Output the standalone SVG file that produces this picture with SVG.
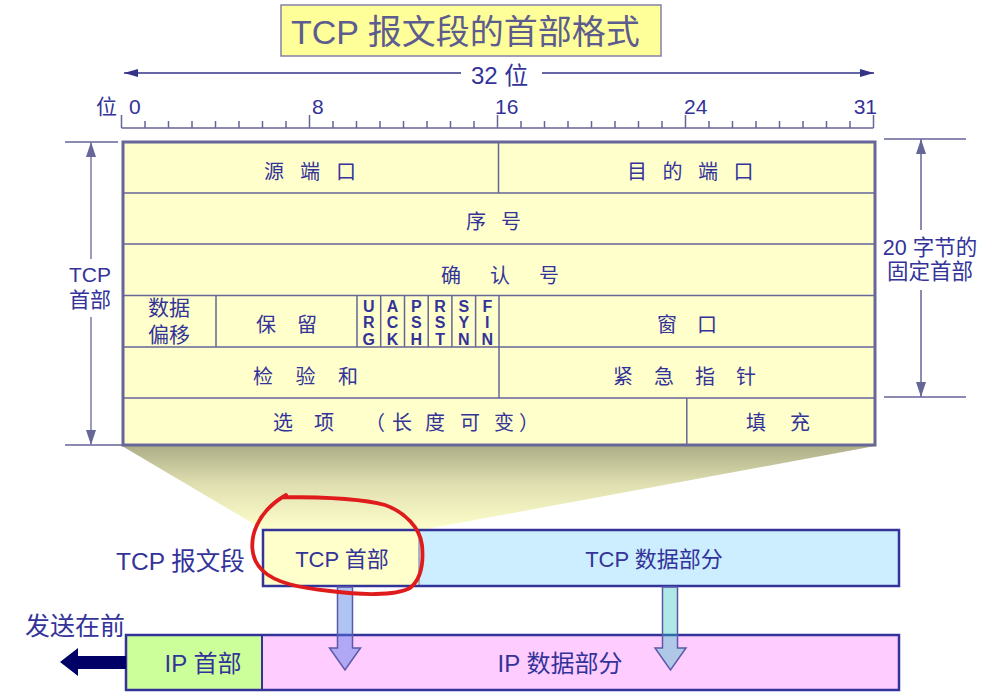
<svg xmlns="http://www.w3.org/2000/svg" width="999" height="698" viewBox="0 0 999 698">
<defs>
<style>
.t{font-family:"Liberation Sans","Noto Sans CJK SC",sans-serif;fill:#333399}
.cell{font-size:20px}
.flag{font-size:16px;font-weight:bold;text-anchor:middle}
.ln{stroke:#666699;stroke-width:1.5;fill:none}
.dim{stroke:#7a7aa8;stroke-width:1.5;fill:none}
.box{stroke:#333399;stroke-width:2.5}
</style>
<linearGradient id="shade" x1="0" y1="0" x2="0" y2="1">
<stop offset="0" stop-color="#aeae88"/>
<stop offset="0.45" stop-color="#dedeb0"/>
<stop offset="1" stop-color="#ffffcc"/>
</linearGradient>
<marker id="ah" viewBox="0 0 14 8" refX="14" refY="4" markerWidth="14" markerHeight="8" markerUnits="userSpaceOnUse" orient="auto">
<path d="M0,0 L14,4 L0,8 Z" fill="#333388"/>
</marker>
<marker id="ahd" viewBox="0 0 15 10" refX="15" refY="5" markerWidth="15" markerHeight="10" markerUnits="userSpaceOnUse" orient="auto">
<path d="M0,0 L15,5 L0,10 Z" fill="#666699"/>
</marker>
</defs>
<rect width="999" height="698" fill="#ffffff"/>

<g id="title">
<rect x="281" y="5" width="380" height="51" fill="#ffff99" stroke="#8282a8" stroke-width="1.5"/>
<text x="291" y="44" class="t" style="font-size:34px;fill:#5c5c8e">TCP 报文段的首部格式</text>
</g>

<g id="ruler">
<line x1="461" y1="73" x2="124" y2="73" stroke="#333388" stroke-width="1.5" marker-end="url(#ah)"/>
<line x1="542" y1="73" x2="874" y2="73" stroke="#333388" stroke-width="1.5" marker-end="url(#ah)"/>
<text x="471" y="84" class="t" style="font-size:24px">32 位</text>
<text x="96" y="114" class="t" style="font-size:21px">位</text>
<text x="129" y="114" class="t" style="font-size:21px">0</text>
<text x="312" y="114" class="t" style="font-size:21px">8</text>
<text x="495" y="114" class="t" style="font-size:21px">16</text>
<text x="684" y="114" class="t" style="font-size:21px">24</text>
<text x="877" y="114" class="t" style="font-size:21px;text-anchor:end">31</text>
<path class="ln" d="M121.5,128 H873.5 M121.5,115 V128 M309.5,115 V128 M497.5,115 V128 M685.5,115 V128 M873.5,115 V128
M145,121 V128 M168.5,121 V128 M192,121 V128 M215.5,121 V128 M239,121 V128 M262.5,121 V128 M286,121 V128
M333,121 V128 M356.5,121 V128 M380,121 V128 M403.5,121 V128 M427,121 V128 M450.5,121 V128 M474,121 V128
M521,121 V128 M544.5,121 V128 M568,121 V128 M591.5,121 V128 M615,121 V128 M638.5,121 V128 M662,121 V128
M709,121 V128 M732.5,121 V128 M756,121 V128 M779.5,121 V128 M803,121 V128 M826.5,121 V128 M850,121 V128"/>
</g>

<polygon id="zoom-shade" points="122,446 875,446 421,530 264,530" fill="url(#shade)"/>

<g id="header-table">
<rect x="123" y="142" width="752" height="303" fill="#ffffcc"/>
<path class="ln" d="M123,193 H875 M123,244 H875 M123,295.5 H875 M123,347 H875 M123,398 H875
M498.5,142 V193 M216,295.5 V347 M357,295.5 V347 M380.7,295.5 V347 M404.5,295.5 V347 M428.2,295.5 V347 M451.9,295.5 V347 M475.6,295.5 V347 M499,295.5 V347
M499,347 V398 M686.8,398 V445"/>
<rect x="123" y="142" width="752" height="303" fill="none" stroke="#666699" stroke-width="3"/>
<text class="t cell" x="264 300 336" y="178.5">源端口</text>
<text class="t cell" x="627 662.5 698 733.5" y="178.5">目的端口</text>
<text class="t cell" x="466 501" y="229">序号</text>
<text class="t cell" x="441 490 539" y="282.5">确认号</text>
<text class="t" style="font-size:21px;text-anchor:middle" x="169" y="315">数据</text>
<text class="t" style="font-size:21px;text-anchor:middle" x="169" y="341.5">偏移</text>
<text class="t cell" x="256 297" y="332">保留</text>
<text class="t flag" x="368.8" y="311.5">U</text><text class="t flag" x="368.8" y="328">R</text><text class="t flag" x="368.8" y="344.5">G</text>
<text class="t flag" x="392.6" y="311.5">A</text><text class="t flag" x="392.6" y="328">C</text><text class="t flag" x="392.6" y="344.5">K</text>
<text class="t flag" x="416.4" y="311.5">P</text><text class="t flag" x="416.4" y="328">S</text><text class="t flag" x="416.4" y="344.5">H</text>
<text class="t flag" x="440.1" y="311.5">R</text><text class="t flag" x="440.1" y="328">S</text><text class="t flag" x="440.1" y="344.5">T</text>
<text class="t flag" x="463.8" y="311.5">S</text><text class="t flag" x="463.8" y="328">Y</text><text class="t flag" x="463.8" y="344.5">N</text>
<text class="t flag" x="487.3" y="311.5">F</text><text class="t flag" x="487.3" y="328">I</text><text class="t flag" x="487.3" y="344.5">N</text>
<text class="t cell" x="657 697" y="332">窗口</text>
<text class="t cell" x="253 295.5 338" y="384">检验和</text>
<text class="t cell" x="613 654 695 736" y="384">紧急指针</text>
<text class="t cell" x="273 314 365 392 425 460 494 519" y="430">选项（长度可变）</text>
<text class="t cell" x="746 790" y="430">填充</text>
</g>

<g id="dim-tcp-header">
<path class="ln" d="M65,142 H118 M65,445 H122"/>
<line class="dim" x1="91" y1="259" x2="91" y2="142" marker-end="url(#ahd)"/>
<line class="dim" x1="91" y1="317" x2="91" y2="445" marker-end="url(#ahd)"/>
<text class="t" style="font-size:21px;text-anchor:middle" x="90" y="282">TCP</text>
<text class="t" style="font-size:21px;text-anchor:middle" x="90" y="307">首部</text>
</g>

<g id="dim-fixed">
<path class="ln" d="M884,139 H966 M884,397 H966"/>
<line class="ln" x1="921" y1="230" x2="921" y2="139" marker-end="url(#ahd)"/>
<line class="ln" x1="921" y1="290" x2="921" y2="397" marker-end="url(#ahd)"/>
<text class="t" style="font-size:21.5px;text-anchor:middle" x="930" y="255">20 字节的</text>
<text class="t" style="font-size:21.5px;text-anchor:middle" x="930" y="279">固定首部</text>
</g>

<g id="tcp-segment">
<text class="t" style="font-size:24.5px" x="116" y="570">TCP 报文段</text>
<rect x="263" y="530" width="156" height="56" fill="#ffffcc"/>
<rect x="419" y="530" width="480" height="56" fill="#cceeff"/>
<line x1="419" y1="530" x2="419" y2="586" stroke="#6a6aa0" stroke-width="1"/>
<rect class="box" x="263" y="530" width="636" height="56" fill="none"/>
<text class="t" style="font-size:22px;text-anchor:middle" x="342" y="567">TCP 首部</text>
<text class="t" style="font-size:22px;text-anchor:middle" x="654" y="567">TCP 数据部分</text>
</g>

<g id="ip-datagram">
<text class="t" style="font-size:25px" x="25" y="635">发送在前</text>
<rect x="126" y="635" width="136" height="55" fill="#ccff99"/>
<rect x="262" y="635" width="637" height="55" fill="#ffccff"/>
<line x1="262" y1="635" x2="262" y2="690" stroke="#333399" stroke-width="2"/>
<rect class="box" x="126" y="635" width="773" height="55" fill="none"/>
<text class="t" style="font-size:24px;text-anchor:middle" x="203" y="672">IP 首部</text>
<text class="t" style="font-size:24px;text-anchor:middle" x="560" y="672">IP 数据部分</text>
</g>

<g id="connectors">
<polygon points="60,662 78,648 78,656 126,656 126,669 78,669 78,676" fill="#000066"/>
<polygon points="337.5,587 352.5,587 352.5,648 360.5,648 345,670 329.5,648 337.5,648" fill="#507ce7" fill-opacity="0.45" stroke="#5a5aa8" stroke-width="1.5"/>
<polygon points="662.5,587 677.5,587 677.5,648 686,648 670.5,670 655,648 662.5,648" fill="#2ac1c1" fill-opacity="0.37" stroke="#5a5aa8" stroke-width="1.5"/>
</g>

<path id="red-mark" d="M283,497 C320,497 360,498 385,505 C405,512 420,528 422,545 C424,565 420,580 410,588 C395,596 360,595 330,591 C300,588 275,583 262,570 C250,558 250,540 257,525 C263,512 272,503 286,495" fill="none" stroke="#e01b1b" stroke-width="3.8" stroke-linecap="round"/>
</svg>
